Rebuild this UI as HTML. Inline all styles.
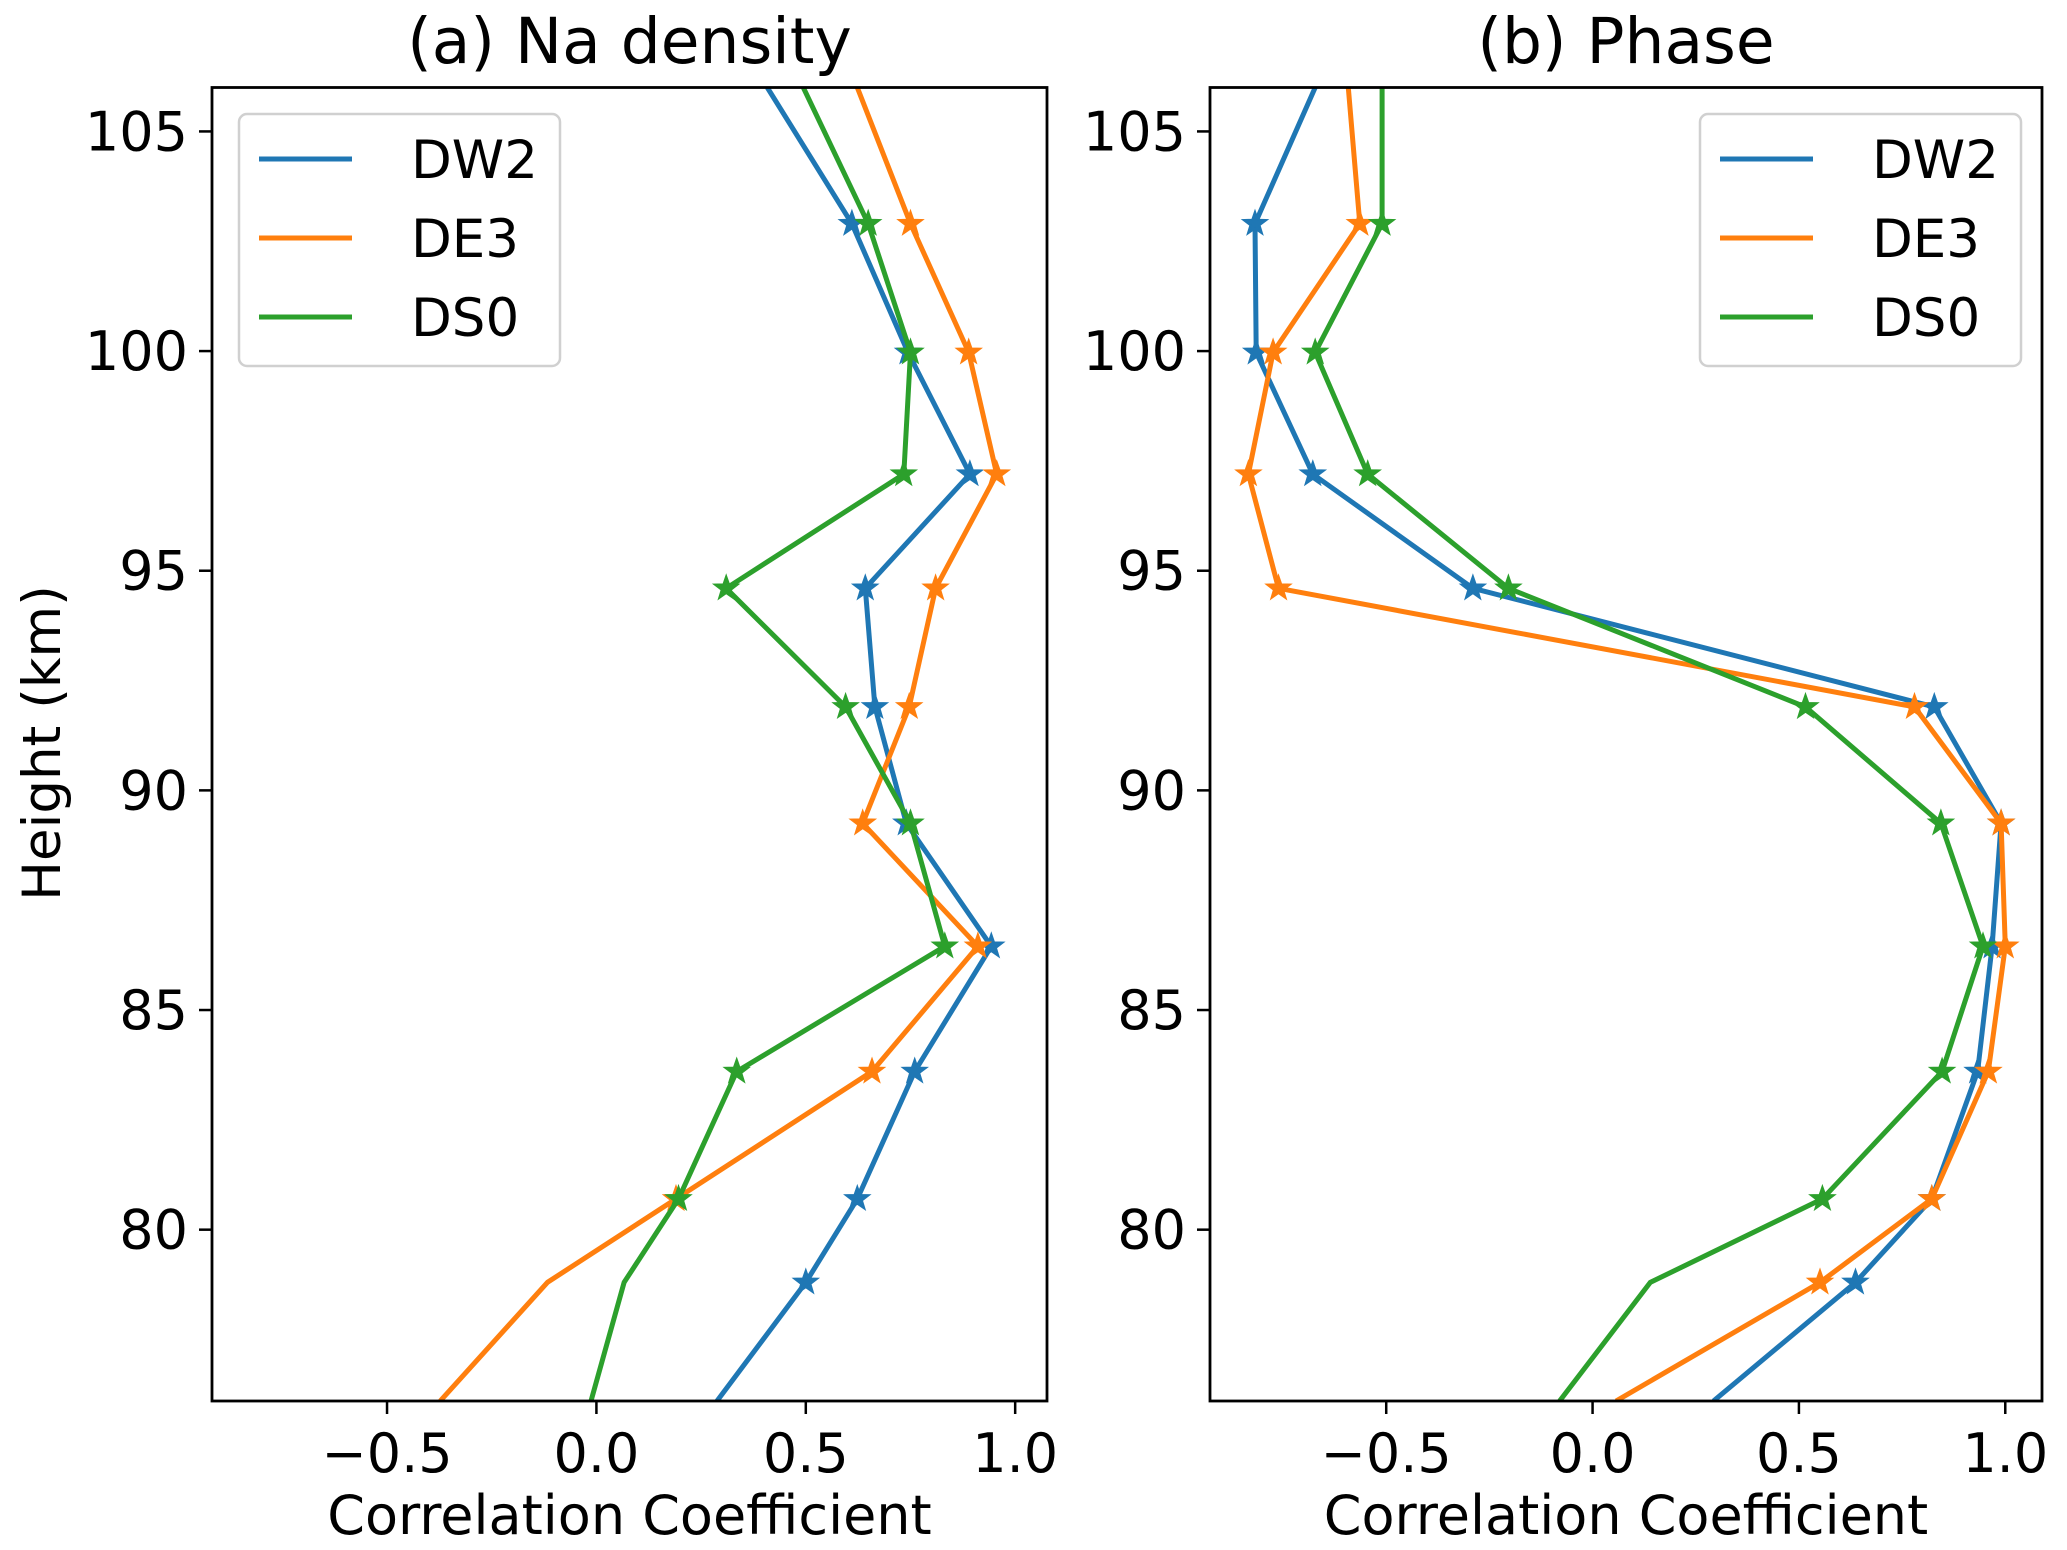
<!DOCTYPE html>
<html><head><meta charset="utf-8"><style>
body{margin:0;background:#fff}
svg text{font-family:"DejaVu Sans","Liberation Sans",sans-serif;fill:#000}
</style></head><body>
<svg id="fig" width="2067" height="1545" xmlns="http://www.w3.org/2000/svg"></svg>
<script>
const heights=[106.0,102.9,99.97,97.2,94.6,91.9,89.25,86.45,83.6,80.7,78.8,76.1];
const seriesNames=["DW2","DE3","DS0"];
const colors=["#1f77b4","#ff7f0e","#2ca02c"];
const naDW2=[0.408,0.61,0.744,0.892,0.642,0.665,0.74,0.943,0.76,0.623,0.5,0.288];
const naDE3=[0.623,0.75,0.889,0.956,0.81,0.747,0.636,0.911,0.658,0.19,-0.117,-0.373];
const naDS0=[0.494,0.649,0.75,0.734,0.31,0.595,0.75,0.832,0.335,0.196,0.066,-0.013];
const phDW2=[-0.672,-0.818,-0.815,-0.678,-0.29,0.828,0.99,0.968,0.933,0.822,0.637,0.293];
const phDE3=[-0.592,-0.564,-0.774,-0.834,-0.761,0.78,0.99,1.0,0.959,0.822,0.551,0.057];
const phDS0=[-0.51,-0.51,-0.672,-0.545,-0.204,0.516,0.844,0.946,0.847,0.557,0.14,-0.08];
const naMarkers=[[1,2,3,4,5,6,7,8,9,10],[1,2,3,4,5,6,7,8,9],[1,2,3,4,5,6,7,8,9]];
const phMarkers=[[1,2,3,4,5,6,7,8,9,10],[1,2,3,4,5,6,7,8,9,10],[1,2,3,4,5,6,7,8,9]];
const xTicks=[-0.5,0.0,0.5,1.0];
const xTickLabels=["\u22120.5","0.0","0.5","1.0"];
const yTicks=[80,85,90,95,100,105];

const NS="http://www.w3.org/2000/svg";
const svg=document.getElementById('fig');
function mk(tag,attrs,parent){const e=document.createElementNS(NS,tag);for(const k in attrs)e.setAttribute(k,attrs[k]);(parent||svg).appendChild(e);return e;}
function star(cx,cy,r){let p=[];for(let i=0;i<10;i++){const a=-Math.PI/2+i*Math.PI/5;const rr=i%2?r*0.4:r;p.push((cx+rr*Math.cos(a)).toFixed(1)+","+(cy+rr*Math.sin(a)).toFixed(1));}return p.join(" ");}

function panel(id,L,R,xmin,xmax,title,data,markers,legX){
  const T=87.5,B=1401,ymin=76.1,ymax=106.0;
  const sx=v=>L+(v-xmin)/(xmax-xmin)*(R-L);
  const sy=v=>B-(v-ymin)/(ymax-ymin)*(B-T);
  const g=mk('g',{});
  
  
  const cp=mk('clipPath',{id:'clip-'+id},g);
  mk('rect',{x:L,y:T,width:R-L,height:B-T},cp);
  data.forEach((vals,si)=>{
    const sg=mk('g',{'clip-path':'url(#clip-'+id+')'},g);
    
    
    const pts=vals.map((v,i)=>sx(v).toFixed(1)+","+sy(heights[i]).toFixed(1)).join(" ");
    const pl=mk('polyline',{points:pts,fill:'none',stroke:colors[si],'stroke-width':5,'stroke-linejoin':'round'},sg);
    
    
    markers[si].forEach(i=>{
      const m=mk('polygon',{points:star(sx(vals[i]),sy(heights[i]),12),fill:colors[si],stroke:colors[si],'stroke-width':2},sg);
      
      
    });
  });
  const fr=mk('rect',{x:L,y:T,width:R-L,height:B-T,fill:'none',stroke:'#000','stroke-width':2.8},g);
  
  
  xTicks.forEach((t,i)=>{
    const x=sx(t);
    mk('line',{x1:x,x2:x,y1:B,y2:B+13,stroke:'#000','stroke-width':2.5},g);
    const tx=mk('text',{x:x,y:1472,'font-size':54,'text-anchor':'middle'},g);
    tx.textContent=xTickLabels[i];
    
    
  });
  yTicks.forEach(t=>{
    const y=sy(t);
    mk('line',{x1:L-13,x2:L,y1:y,y2:y,stroke:'#000','stroke-width':2.5},g);
    const tx=mk('text',{x:L-24,y:y+19,'font-size':54,'text-anchor':'end'},g);
    tx.textContent=String(t);
    
    
  });
  const xl=mk('text',{x:(L+R)/2,y:1534,'font-size':54,'text-anchor':'middle'},g);
  xl.textContent="Correlation Coefficient";
  
  
  const ti=mk('text',{x:(L+R)/2,y:63,'font-size':63,'text-anchor':'middle'},g);
  ti.textContent=title;
  
  
  const lg=mk('g',{},g);
  
  
  mk('rect',{x:legX,y:114,width:321,height:252,rx:8,fill:'#fff',stroke:'#d0d0d0','stroke-width':2.5},lg);
  seriesNames.forEach((n,i)=>{
    const y=159+i*79;
    mk('line',{x1:legX+20,x2:legX+113,y1:y,y2:y,stroke:colors[i],'stroke-width':5},lg);
    const t=mk('text',{x:legX+172,y:y+19,'font-size':53},lg);
    t.textContent=n;
    
    
  });
}
panel('na-density',212,1047,-0.918,1.076,"(a) Na density",[naDW2,naDE3,naDS0],naMarkers,239);
panel('phase',1210,2042,-0.927,1.089,"(b) Phase",[phDW2,phDE3,phDS0],phMarkers,1700);
const yl=mk('text',{x:0,y:0,'font-size':53,'text-anchor':'middle',transform:'translate(60,743) rotate(-90)'});
yl.textContent="Height (km)";


</script>
</body></html>
